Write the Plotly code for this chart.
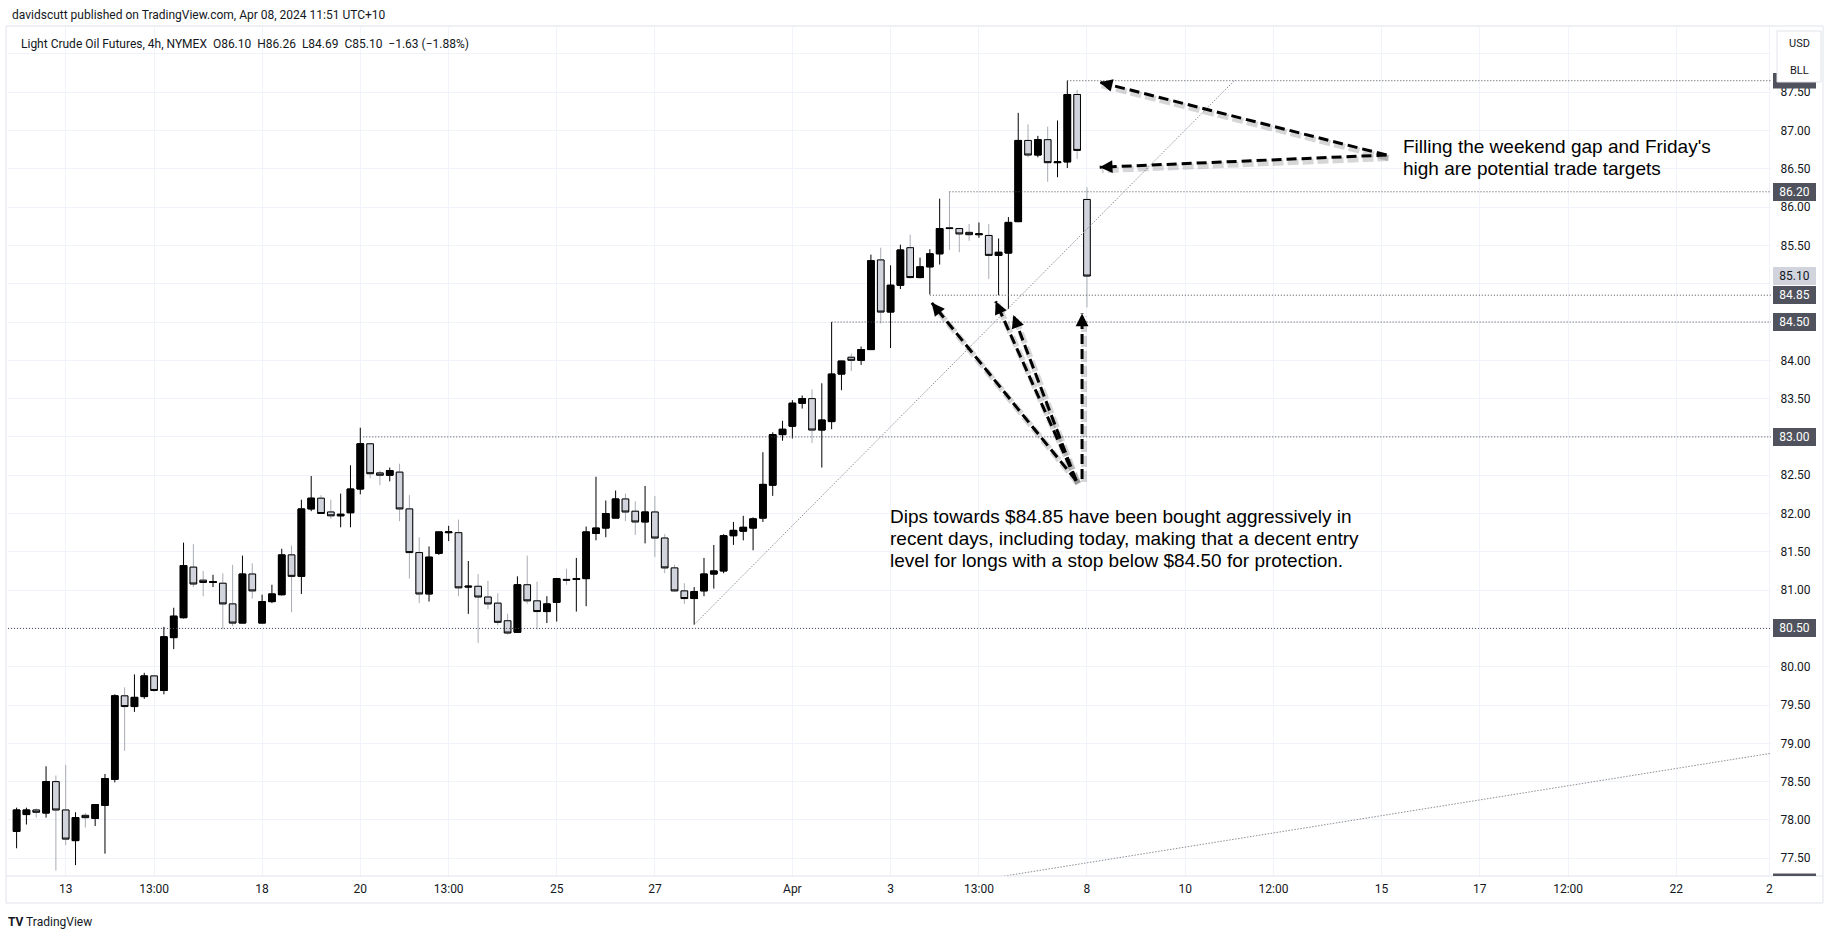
import plotly.graph_objects as go

# ---------------- data (4h bars, index = bar number, weekends skipped) ----------------
bar_index = list(range(110))
opens = [77.85, 78.07, 78.13, 78.09, 78.50, 78.13, 77.73, 78.06, 78.02, 78.19,
         78.53, 79.62, 79.48, 79.61, 79.88, 79.69, 80.38, 80.64, 81.30, 81.13,
         81.10, 81.09, 80.82, 80.57, 81.21, 80.57, 80.85, 80.94, 81.46, 81.18,
         82.06, 82.20, 82.02, 81.97, 82.01, 82.32, 82.91, 82.53, 82.50, 82.54,
         82.06, 81.49, 80.95, 81.48, 81.75, 81.75, 81.04, 81.05, 80.91, 80.83,
         80.60, 80.45, 81.07, 80.86, 80.72, 80.84, 81.14, 81.14, 81.15, 81.74,
         81.81, 81.94, 82.19, 82.03, 81.89, 82.02, 81.68, 81.29, 80.99, 80.89,
         80.99, 81.21, 81.25, 81.71, 81.77, 81.81, 81.94, 82.37, 83.03, 83.14,
         83.44, 83.50, 83.09, 83.20, 83.82, 84.04, 84.00, 84.14, 85.31, 84.63,
         84.98, 85.47, 85.08, 85.22, 85.39, 85.73, 85.72, 85.67, 85.64, 85.63,
         85.37, 85.40, 85.81, 86.87, 86.68, 86.88, 86.58, 86.59, 87.47, 86.10]
highs = [78.16, 78.16, 78.15, 78.70, 78.58, 78.72, 78.10, 78.09, 78.20, 78.60,
         79.64, 79.73, 79.90, 79.92, 79.88, 80.52, 80.77, 81.62, 81.60, 81.25,
         81.20, 81.22, 81.33, 81.45, 81.35, 80.94, 81.07, 81.54, 81.58, 82.18,
         82.49, 82.24, 82.18, 82.26, 82.63, 83.12, 82.92, 82.56, 82.60, 82.65,
         82.24, 81.69, 81.57, 81.76, 81.84, 81.92, 81.38, 81.21, 81.12, 80.96,
         80.69, 81.18, 81.45, 81.11, 80.92, 81.16, 81.28, 81.42, 81.83, 82.48,
         82.17, 82.30, 82.26, 82.16, 82.36, 82.23, 81.73, 81.33, 81.09, 81.04,
         81.42, 81.59, 81.73, 81.89, 81.97, 81.95, 82.80, 83.06, 83.21, 83.48,
         83.54, 83.62, 83.70, 84.50, 83.99, 84.09, 84.18, 85.38, 85.47, 85.24,
         85.51, 85.64, 85.34, 85.45, 86.11, 86.20, 85.73, 85.78, 85.80, 85.78,
         85.59, 85.87, 87.23, 87.08, 86.93, 87.05, 87.13, 87.65, 87.53, 86.26]
lows = [77.63, 77.94, 78.03, 78.03, 77.34, 77.67, 77.41, 77.90, 77.92, 77.56,
        78.49, 78.90, 79.41, 79.58, 79.67, 79.64, 80.23, 80.63, 81.04, 80.92,
        81.04, 80.49, 80.53, 80.57, 80.89, 80.57, 80.83, 80.93, 80.71, 80.95,
        82.03, 82.00, 81.93, 81.82, 81.82, 82.25, 82.46, 82.37, 82.42, 81.90,
        81.15, 80.83, 80.85, 81.46, 81.64, 80.92, 80.69, 80.31, 80.75, 80.54,
        80.42, 80.45, 80.82, 80.49, 80.57, 80.59, 81.07, 80.72, 80.79, 81.65,
        81.69, 81.94, 81.90, 81.72, 81.61, 81.43, 81.22, 80.98, 80.82, 80.55,
        80.92, 81.02, 81.22, 81.59, 81.65, 81.52, 81.89, 82.23, 82.95, 82.98,
        83.37, 82.92, 82.60, 83.10, 83.61, 83.86, 83.94, 84.14, 84.48, 84.16,
        84.93, 85.07, 85.07, 84.86, 85.25, 85.44, 85.41, 85.56, 85.60, 85.06,
        84.85, 84.67, 85.81, 86.65, 86.65, 86.33, 86.39, 86.51, 86.63, 84.69]
closes = [78.13, 78.13, 78.10, 78.50, 78.13, 77.75, 78.03, 78.03, 78.20, 78.54,
          79.62, 79.48, 79.60, 79.88, 79.69, 80.39, 80.66, 81.32, 81.08, 81.10,
          81.11, 80.82, 80.57, 81.21, 80.99, 80.85, 80.95, 81.46, 81.18, 82.06,
          82.20, 82.00, 81.97, 81.99, 82.32, 82.91, 82.52, 82.50, 82.56, 82.06,
          81.49, 80.95, 81.43, 81.76, 81.76, 81.03, 81.05, 80.91, 80.82, 80.58,
          80.44, 81.07, 80.86, 80.72, 80.82, 81.15, 81.13, 81.15, 81.76, 81.81,
          82.00, 82.19, 82.02, 81.89, 82.02, 81.68, 81.29, 80.99, 80.89, 80.98,
          81.21, 81.25, 81.71, 81.78, 81.82, 81.93, 82.38, 83.03, 83.10, 83.44,
          83.50, 83.09, 83.22, 83.82, 83.99, 84.00, 84.14, 85.30, 84.63, 84.98,
          85.44, 85.08, 85.22, 85.39, 85.72, 85.72, 85.65, 85.64, 85.65, 85.37,
          85.41, 85.80, 86.87, 86.68, 86.88, 86.58, 86.59, 87.47, 86.74, 85.10]

tick_bars = [5, 14, 25, 35, 44, 55, 65, 79, 89, 98, 109, 119, 128, 139, 149, 158, 169, 178.5]
tick_labels = ["13", "13:00", "18", "20", "13:00", "25", "27", "Apr", "3", "13:00", "8",
               "10", "12:00", "15", "17", "12:00", "22", "2"]

# price scale ticks (labels hidden where a price tag covers them)
price_ticks = [77.5, 78.0, 78.5, 79.0, 79.5, 80.0, 80.5, 81.0, 81.5, 82.0, 82.5, 83.0,
               83.5, 84.0, 84.5, 85.0, 85.5, 86.0, 86.5, 87.0, 87.5, 88.0]
price_tick_labels = ["77.50", "78.00", "78.50", "79.00", "79.50", "80.00", "", "81.00", "81.50",
                     "82.00", "82.50", "", "83.50", "84.00", "", "", "85.50", "86.00", "86.50",
                     "87.00", "87.50", ""]

# horizontal levels drawn on the chart: (price, first bar)
level_prices = [87.65, 86.20, 84.85, 84.50, 83.00, 80.50]
level_start_bars = [107, 95, 93, 83, 35.3, -1]

# axis price labels
axis_labels_dark = [86.20, 84.85, 84.50, 83.00, 80.50]
last_price = 85.10

# trend lines (bar, price) pairs
trend_lines = [((69, 80.55), (124, 87.65)), ((90, 77.05), (178.66, 78.87))]

# arrows: (origin bar, origin price, tip bar, tip price)
arrows = [(139.5, 86.68, 110.3, 87.63),
          (139.5, 86.68, 110.3, 86.52),
          (107.9, 82.43, 93.2, 84.75),
          (107.9, 82.43, 99.7, 84.77),
          (107.9, 82.43, 101.5, 84.59),
          (108.5, 82.45, 108.5, 84.61)]

note_targets = ["Filling the weekend gap and Friday's", "high are potential trade targets"]
note_dips = ["Dips towards $84.85 have been bought aggressively in",
             "recent days, including today, making that a decent entry",
             "level for longs with a stop below $84.50 for protection."]

# ---------------- layout geometry ----------------
W, H = 1835, 939
PL, PR, PT, PB = 8, 1771, 27, 876
X_RANGE = [-0.876, 178.66]
Y_RANGE = [77.268, 88.351]
PXB = (PR - PL) / (X_RANGE[1] - X_RANGE[0])
PXY = (PB - PT) / (Y_RANGE[1] - Y_RANGE[0])


def px_x(px):
    return (px - PL) / (PR - PL)


def px_y(py):
    return (PB - py) / (PB - PT)


FONT = "Roboto"
TXT = "#131722"
DARK = "#50535e"
GRID = "#f0f3fa"
FRAME = "#e0e3eb"

fig = go.Figure()

# wicks (down-candle wicks gray)
fig.add_trace(go.Candlestick(
    x=bar_index, open=opens, high=highs, low=lows, close=closes,
    increasing=dict(line=dict(color="#000000", width=1), fillcolor="#000000"),
    decreasing=dict(line=dict(color="#a9acb5", width=1), fillcolor="#d1d4dc"),
    whiskerwidth=0, hoverinfo="skip", showlegend=False))
# bodies with black outline
body_hi = [max(o, c) for o, c in zip(opens, closes)]
body_lo = [min(o, c) for o, c in zip(opens, closes)]
fig.add_trace(go.Candlestick(
    x=bar_index, open=opens, high=body_hi, low=body_lo, close=closes,
    increasing=dict(line=dict(color="#000000", width=1), fillcolor="#000000"),
    decreasing=dict(line=dict(color="#000000", width=1), fillcolor="#d1d4dc"),
    whiskerwidth=0, hoverinfo="skip", showlegend=False))

shapes = []
# level lines
for lvl, start in zip(level_prices, level_start_bars):
    shapes.append(dict(type="line", xref="x", yref="y", x0=max(start, X_RANGE[0]), x1=X_RANGE[1],
                       y0=lvl, y1=lvl, line=dict(color="#4a4d57", width=1, dash="1px,2px")))
# trend lines
for (x0, y0), (x1, y1) in trend_lines:
    shapes.append(dict(type="line", xref="x", yref="y", x0=x0, y0=y0, x1=x1, y1=y1,
                       line=dict(color="#8c8f98", width=1, dash="1.5px,1.5px")))
# arrows: shadow + dashed line
sdx, sdy = 2 / PXB, -3 / PXY
for ox, oy, tx, ty in arrows:
    shapes.append(dict(type="line", xref="x", yref="y", x0=ox + sdx, y0=oy + sdy, x1=tx + sdx, y1=ty + sdy,
                       line=dict(color="rgba(0,0,0,0.16)", width=6, dash="11px,4px")))
    shapes.append(dict(type="line", xref="x", yref="y", x0=ox, y0=oy, x1=tx, y1=ty,
                       line=dict(color="#000000", width=3, dash="10px,5px")))

# frame
shapes.append(dict(type="rect", xref="paper", yref="paper", x0=px_x(6), x1=px_x(1823),
                   y0=px_y(903), y1=px_y(26), line=dict(color=FRAME, width=1), layer="above"))
shapes.append(dict(type="line", xref="paper", yref="paper", x0=px_x(6), x1=px_x(1823),
                   y0=px_y(876), y1=px_y(876), line=dict(color=FRAME, width=1)))
# hidden label remnants on the price scale
shapes.append(dict(type="rect", xref="paper", yref="paper", x0=px_x(1773), x1=px_x(1816),
                   y0=px_y(88.5), y1=px_y(73), fillcolor=DARK, line=dict(width=0)))
shapes.append(dict(type="rect", xref="paper", yref="paper", x0=px_x(1773), x1=px_x(1816),
                   y0=px_y(876), y1=px_y(873.5), fillcolor=DARK, line=dict(width=0)))
# USD / BLL box
shapes.append(dict(type="rect", xref="paper", yref="paper", x0=px_x(1777), x1=px_x(1821),
                   y0=px_y(82), y1=px_y(31), fillcolor="#ffffff", line=dict(color=FRAME, width=1)))

annotations = []
# price scale labels
for lvl in axis_labels_dark:
    annotations.append(dict(xref="paper", yref="y", x=px_x(1773), y=lvl, xanchor="left", yanchor="middle",
                            text=f"{lvl:.2f}", showarrow=False, bgcolor=DARK, width=43, height=18,
                            borderpad=0, borderwidth=0, align="center",
                            font=dict(family=FONT, size=12, color="#ffffff")))
annotations.append(dict(xref="paper", yref="y", x=px_x(1773), y=last_price, xanchor="left", yanchor="middle",
                        text=f"{last_price:.2f}", showarrow=False, bgcolor="#d1d4dc", width=43, height=18,
                        borderpad=0, borderwidth=0, align="center",
                        font=dict(family=FONT, size=12, color=TXT)))
# USD / BLL
annotations.append(dict(xref="paper", yref="paper", x=px_x(1799), y=px_y(43), text="USD", showarrow=False,
                        xanchor="center", yanchor="middle", font=dict(family=FONT, size=11, color=TXT)))
annotations.append(dict(xref="paper", yref="paper", x=px_x(1799), y=px_y(70), text="BLL", showarrow=False,
                        xanchor="center", yanchor="middle", font=dict(family=FONT, size=11, color=TXT)))
# header + legend
annotations.append(dict(xref="paper", yref="paper", x=px_x(10), y=px_y(15), xanchor="left", yanchor="middle",
                        text="davidscutt published on TradingView.com, Apr 08, 2024 11:51 UTC+10",
                        showarrow=False, font=dict(family=FONT, size=12, color=TXT)))
nb = "\u00a0\u00a0"
legend_txt = ("Light Crude Oil Futures, 4h, NYMEX" + nb + "O86.10" + nb + "H86.26" + nb + "L84.69" + nb +
              "C85.10" + nb + "\u22121.63 (\u22121.88%)")
annotations.append(dict(xref="paper", yref="paper", x=px_x(19), y=px_y(44), xanchor="left", yanchor="middle",
                        text=legend_txt, showarrow=False, font=dict(family=FONT, size=12, color=TXT)))
# TradingView mark
annotations.append(dict(xref="paper", yref="paper", x=px_x(6), y=px_y(922), xanchor="left", yanchor="middle",
                        text="<b>TV</b> TradingView", showarrow=False,
                        font=dict(family=FONT, size=12, color=TXT)))
# notes
for k, line in enumerate(note_targets):
    annotations.append(dict(xref="x", yref="y", x=140.98, y=86.785 - k * 0.275, xanchor="left",
                            yanchor="middle", text=line, showarrow=False,
                            font=dict(family="Liberation Sans", size=19, color="#000000")))
for k, line in enumerate(note_dips):
    annotations.append(dict(xref="x", yref="y", x=88.74, y=81.967 - k * 0.292, xanchor="left",
                            yanchor="middle", text=line, showarrow=False,
                            font=dict(family="Liberation Sans", size=19, color="#000000")))
# arrow heads
for ox, oy, tx, ty in arrows:
    dxp = (ox - tx) * PXB
    dyp = -(oy - ty) * PXY
    n = (dxp ** 2 + dyp ** 2) ** 0.5
    annotations.append(dict(xref="x", yref="y", x=tx, y=ty, ax=dxp / n * 13, ay=dyp / n * 13,
                            text="", showarrow=True, arrowhead=2, arrowsize=0.85, arrowwidth=3,
                            arrowcolor="#000000", standoff=0))

axis_font = dict(family=FONT, size=12, color=TXT)
fig.update_layout(
    width=W, height=H, autosize=False,
    margin=dict(l=PL, r=W - PR, t=PT, b=H - PB, pad=0),
    paper_bgcolor="#ffffff", plot_bgcolor="#ffffff",
    showlegend=False, boxgap=0.03, boxgroupgap=0.3,
    shapes=shapes, annotations=annotations,
    xaxis=dict(range=X_RANGE, tickmode="array", tickvals=tick_bars, ticktext=tick_labels,
               showgrid=True, gridcolor=GRID, gridwidth=1, zeroline=False, showline=False,
               ticks="outside", ticklen=2, tickcolor="rgba(0,0,0,0)", tickfont=axis_font,
               rangeslider=dict(visible=False), fixedrange=True),
    yaxis=dict(range=Y_RANGE, side="right", tickmode="array", tickvals=price_ticks,
               ticktext=price_tick_labels,
               showgrid=True, gridcolor=GRID, gridwidth=1, zeroline=False, showline=False,
               ticks="outside", ticklen=6, tickcolor="rgba(0,0,0,0)", tickfont=axis_font,
               fixedrange=True),
)

fig.write_html("out.html", config={"displayModeBar": False},
               post_script="document.body.style.margin='0';document.body.style.overflow='hidden';")
